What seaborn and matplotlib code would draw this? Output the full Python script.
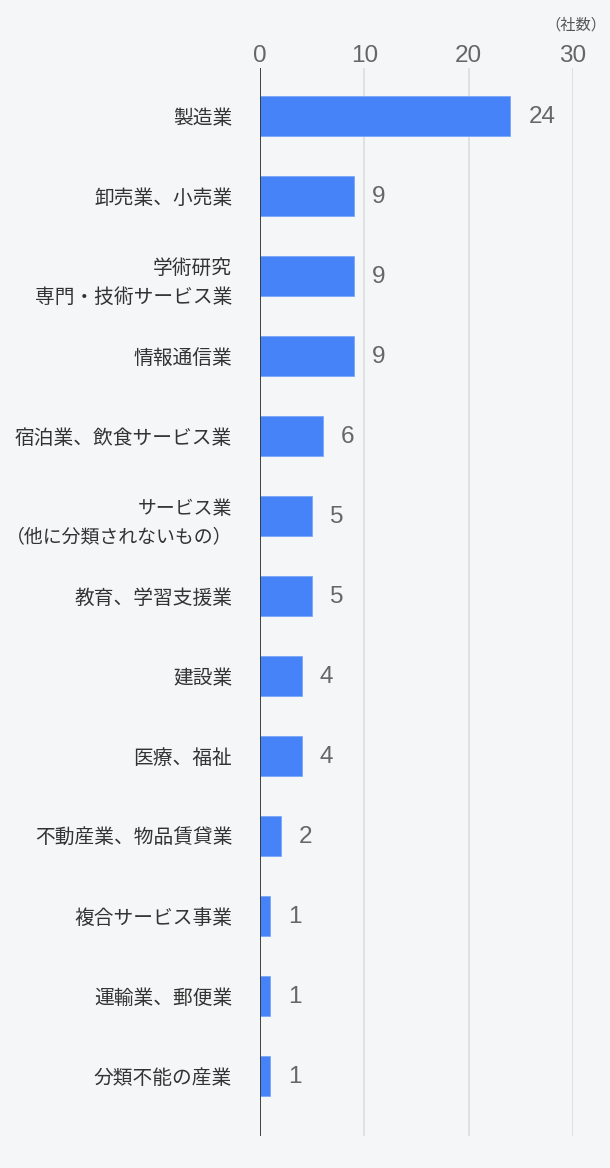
import numpy as np
import pandas as pd
import matplotlib
matplotlib.use("Agg")
import matplotlib.pyplot as plt
import seaborn as sns

# data
industries = [
    "製造業",
    "卸売業、小売業",
    "学術研究\n専門・技術サービス業",
    "情報通信業",
    "宿泊業、飲食サービス業",
    "サービス業\n（他に分類されないもの）",
    "教育、学習支援業",
    "建設業",
    "医療、福祉",
    "不動産業、物品賃貸業",
    "複合サービス事業",
    "運輸業、郵便業",
    "分類不能の産業",
]
counts = [24, 9, 9, 9, 6, 5, 5, 4, 4, 2, 1, 1, 1]
x_ticks = [0, 10, 20, 30]
unit_label = "（社数）"

df = pd.DataFrame({"業種": industries, "社数": counts})

bg = "#f5f6f8"
bar_color = "#4683f8"
jp = ["Noto Sans CJK JP", "DejaVu Sans"]
num = ["Liberation Sans", "DejaVu Sans"]

sns.set_theme(style="white")
plt.rcParams["font.family"] = jp

fig = plt.figure(figsize=(6.1, 11.68), dpi=100, facecolor=bg)
ax = fig.add_axes([260 / 610, 1 - 1136 / 1168, (573 - 260) / 610, (1136 - 68) / 1168])
ax.set_facecolor(bg)

sns.barplot(data=df, x="社数", y="業種", orient="h", color=bar_color,
            width=0.5, saturation=1, edgecolor="#7aa6fa", linewidth=0.6, ax=ax)

ax.set_xlim(0, 30)
ax.set_ylim(12.75, -0.6)
ax.set_xlabel("")
ax.set_ylabel("")

# vertical grid lines
for t in x_ticks[1:]:
    ax.axvline(t, color="#dcdcdc", lw=1.2, zorder=0)
ax.axvline(0, color="#333333", lw=1.3, zorder=3)

ax.xaxis.tick_top()
ax.set_xticks(x_ticks)
ax.set_xticklabels([str(t) for t in x_ticks], fontsize=17.5, color="#666666", family=num)
ax.tick_params(axis="x", length=0, pad=0.5)
ax.tick_params(axis="y", length=0, pad=20)
for lbl in ax.get_yticklabels():
    # the long bracketed label is set a little smaller so it stays inside the figure
    lbl.set_fontsize(13.6 if "（" in lbl.get_text() else 14.2)
    lbl.set_color("#333333")
    lbl.set_linespacing(1.5)

for s in ax.spines.values():
    s.set_visible(False)

# value labels
for i, v in enumerate(counts):
    ax.annotate(str(v), xy=(v, i), xytext=(13, -1), textcoords="offset points",
                ha="left", va="center", fontsize=17.5, color="#666666", family=num)

fig.text(606 / 610, 1 - 25 / 1168, unit_label, ha="right", va="center",
         fontsize=11, color="#555555")

fig.savefig("out.png", dpi=100, facecolor=bg)
